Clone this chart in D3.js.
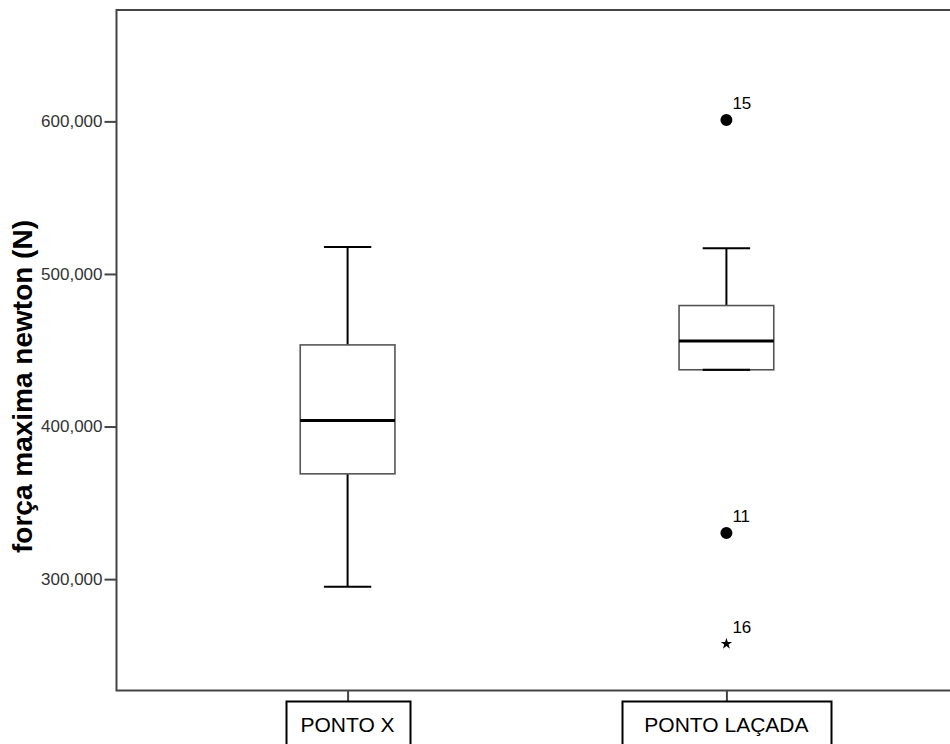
<!DOCTYPE html>
<html>
<head>
<meta charset="utf-8">
<script src="https://cdn.jsdelivr.net/npm/d3@7"></script>
<style>
  body { margin: 0; background: #fff; }
  text { font-family: Arial, "Liberation Sans", sans-serif; }
</style>
</head>
<body>
<div id="chart"></div>
<script>
// box statistics per group
var categories = ['PONTO X', 'PONTO LAÇADA'];
var whisker_low = [295000, 437200];
var q1 = [369000, 437200];
var median = [403900, 456000];
var q3 = [453500, 479300];
var whisker_high = [517700, 516900];

// outliers (case number, group, value, kind)
var outlier_case = ['15', '11', '16'];
var outlier_group = ['PONTO LAÇADA', 'PONTO LAÇADA', 'PONTO LAÇADA'];
var outlier_value = [600900, 330300, 257600];
var outlier_kind = ['circle', 'circle', 'star'];

var y_ticks = [300000, 400000, 500000, 600000];

var chart_width = 950;
var chart_height = 744;
var plot_left = 116.5, plot_top = 10, plot_right = 957.5, plot_bottom = 690.5;

var svg = d3.select('#chart')
	.append('svg')
	.attr('width', chart_width)
	.attr('height', chart_height);

var x_scale = d3.scalePoint()
	.domain(categories)
	.range([plot_left, plot_right])
	.padding(0.61);

var y_scale = d3.scaleLinear()
	.domain([227000, 673000])
	.range([plot_bottom, plot_top]);

var step = x_scale.step();
var box_w = step * 0.25;
var cap_w = box_w / 2;

var boxes = categories.map(function (c, i) {
	return { cat: c, lo: whisker_low[i], q1: q1[i], med: median[i], q3: q3[i], hi: whisker_high[i] };
});

// frame (top line; right edge falls outside the picture)
svg.append('rect')
	.attr('x', plot_left)
	.attr('y', plot_top)
	.attr('width', plot_right - plot_left)
	.attr('height', plot_bottom - plot_top)
	.attr('fill', 'none')
	.attr('stroke', '#444')
	.attr('stroke-width', 2);

// y axis
var y_axis = svg.append('g')
	.attr('transform', 'translate(' + plot_left + ',0)')
	.call(d3.axisLeft(y_scale)
		.tickValues(y_ticks)
		.tickFormat(d3.format(','))
		.tickSize(12)
		.tickSizeOuter(0)
		.tickPadding(2));
y_axis.select('.domain').remove();
y_axis.selectAll('line').attr('stroke', '#444').attr('stroke-width', 2);
y_axis.selectAll('text')
	.attr('fill', '#333')
	.style('font-size', '17px')
	.style('font-family', 'Arial, "Liberation Sans", sans-serif');

// x axis ticks
var x_axis = svg.append('g')
	.attr('transform', 'translate(0,' + plot_bottom + ')')
	.call(d3.axisBottom(x_scale).tickSize(11).tickSizeOuter(0).tickFormat(''));
x_axis.select('.domain').remove();
x_axis.selectAll('line').attr('stroke', '#444').attr('stroke-width', 2);

// boxed category labels
var lab = svg.selectAll('.cat')
	.data(categories)
	.enter()
	.append('g')
	.attr('class', 'cat');
lab.append('text')
	.text(function (d) { return d; })
	.attr('x', function (d) { return x_scale(d); })
	.attr('y', 731.5)
	.attr('text-anchor', 'middle')
	.style('font-size', '21px')
	.attr('fill', '#000');
lab.insert('rect', 'text')
	.each(function (d) {
		var bb = this.parentNode.querySelector('text').getBBox();
		var w = Math.round(bb.width * 1.214 + 10);
		d3.select(this)
			.attr('x', Math.round(x_scale(d) - w / 2) + 0.5)
			.attr('y', 701.5)
			.attr('width', w)
			.attr('height', 60);
	})
	.attr('fill', '#fff')
	.attr('stroke', '#000')
	.attr('stroke-width', 2);

// whiskers
var g = svg.selectAll('.box')
	.data(boxes)
	.enter()
	.append('g')
	.attr('class', 'box');

g.append('line')
	.attr('x1', function (d) { return x_scale(d.cat); })
	.attr('x2', function (d) { return x_scale(d.cat); })
	.attr('y1', function (d) { return y_scale(d.hi); })
	.attr('y2', function (d) { return y_scale(d.q3); })
	.attr('stroke', '#000')
	.attr('stroke-width', 2);
g.append('line')
	.attr('x1', function (d) { return x_scale(d.cat); })
	.attr('x2', function (d) { return x_scale(d.cat); })
	.attr('y1', function (d) { return y_scale(d.q1); })
	.attr('y2', function (d) { return y_scale(d.lo); })
	.attr('stroke', '#000')
	.attr('stroke-width', 2);
['hi', 'lo'].forEach(function (k) {
	g.append('line')
		.attr('x1', function (d) { return x_scale(d.cat) - cap_w / 2; })
		.attr('x2', function (d) { return x_scale(d.cat) + cap_w / 2; })
		.attr('y1', function (d) { return y_scale(d[k]); })
		.attr('y2', function (d) { return y_scale(d[k]); })
		.attr('stroke', '#000')
		.attr('stroke-width', 2);
});

// boxes
g.append('rect')
	.attr('x', function (d) { return x_scale(d.cat) - box_w / 2; })
	.attr('y', function (d) { return y_scale(d.q3); })
	.attr('width', box_w)
	.attr('height', function (d) { return y_scale(d.q1) - y_scale(d.q3); })
	.attr('fill', '#fff')
	.attr('stroke', '#555')
	.attr('stroke-width', 1.6);

// medians
g.append('line')
	.attr('x1', function (d) { return x_scale(d.cat) - box_w / 2; })
	.attr('x2', function (d) { return x_scale(d.cat) + box_w / 2; })
	.attr('y1', function (d) { return y_scale(d.med); })
	.attr('y2', function (d) { return y_scale(d.med); })
	.attr('stroke', '#000')
	.attr('stroke-width', 3);

// lower whisker cap of the second box sits on Q1, draw it on top
g.filter(function (d) { return d.lo === d.q1; })
	.append('line')
	.attr('x1', function (d) { return x_scale(d.cat) - cap_w / 2; })
	.attr('x2', function (d) { return x_scale(d.cat) + cap_w / 2; })
	.attr('y1', function (d) { return y_scale(d.lo); })
	.attr('y2', function (d) { return y_scale(d.lo); })
	.attr('stroke', '#000')
	.attr('stroke-width', 2);

// outliers
var outliers = outlier_case.map(function (c, i) {
	return { id: c, cat: outlier_group[i], v: outlier_value[i], kind: outlier_kind[i] };
});

svg.selectAll('.out')
	.data(outliers)
	.enter()
	.append('path')
	.attr('class', 'out')
	.attr('transform', function (d) {
		return 'translate(' + x_scale(d.cat) + ',' + y_scale(d.v) + ')';
	})
	.attr('d', function (d) {
		return d.kind === 'star'
			? d3.symbol(d3.symbolStar, 40)()
			: d3.symbol(d3.symbolCircle, 113)();
	})
	.attr('fill', '#000');

svg.selectAll('.out-label')
	.data(outliers)
	.enter()
	.append('text')
	.attr('class', 'out-label')
	.text(function (d) { return d.id; })
	.attr('x', function (d) { return x_scale(d.cat) + 6; })
	.attr('y', function (d) { return y_scale(d.v) - 11; })
	.style('font-size', '17px')
	.attr('fill', '#000');

// y axis title
svg.append('text')
	.text('força maxima newton (N)')
	.attr('transform', 'translate(32,386.5) rotate(-90)')
	.attr('text-anchor', 'middle')
	.style('font-size', '28px')
	.style('font-weight', 'bold')
	.attr('fill', '#000');
</script>
</body>
</html>
